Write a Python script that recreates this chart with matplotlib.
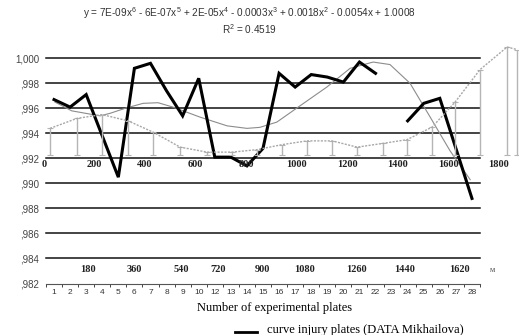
import numpy as np
import matplotlib.pyplot as plt

plt.rcParams['mathtext.fontset'] = 'custom'
plt.rcParams['mathtext.rm'] = 'Liberation Sans'
plt.rcParams['mathtext.it'] = 'Liberation Sans'

# plate numbers on the category axis (11 is not printed in the source)
plates = [str(i) for i in range(1, 11)] + [str(i) for i in range(12, 29)]

# injury curve (DATA Mikhailova), gap at plate 23
injury = [0.9967, 0.9961, 0.9971, 0.9938, 0.9905, 0.9992, 0.9996, 0.9974,
          0.9954, 0.9984, 0.9921, 0.9921, 0.9914, 0.9928, 0.9988, 0.9977,
          0.9987, 0.9985, 0.9981, 0.9997, 0.9988, np.nan, 0.9950, 0.9964,
          0.9968, 0.9928, 0.9888]

# 6th order trend line (category positions)
trend_pos = [1.06, 2.1, 3.86, 4.48, 5.42, 6.54, 7.47, 8.4, 10.08, 11.77, 13.0,
             13.8, 14.86, 16.3, 17.97, 19.42, 20.85, 21.9, 23.15, 24.4,
             25.64, 26.89]
trend_val = [0.9965, 0.9958, 0.9954, 0.9956, 0.9960, 0.9964, 0.99645, 0.9961,
             0.9953, 0.9946, 0.9944, 0.99448, 0.9949, 0.9962, 0.9977, 0.9992,
             0.9997, 0.9995, 0.9980, 0.9953, 0.9926, 0.9903]

# second (overlaid) curve in metres with error bars
dist_m = [24, 131, 230, 333, 432, 539, 646, 745, 844, 943, 1042, 1141, 1240,
          1343, 1438, 1537, 1628, 1727, 1834, 1873]
dist_val = [0.9944, 0.9952, 0.9955, 0.9950, 0.9941, 0.9929, 0.9925, 0.9925,
            0.9927, 0.9931, 0.9934, 0.9934, 0.9929, 0.9932, 0.9935, 0.9945,
            0.9965, 0.9991, 1.0009, 1.0007]
bar_bottom = 0.9923

top_labels = [0, 200, 400, 600, 800, 1000, 1200, 1400, 1600, 1800]
m_labels = ['180', '360', '540', '720', '900', '1080', '1260', '1440', '1620']
m_pos = [3.12, 5.98, 8.9, 11.2, 13.94, 16.56, 19.8, 22.84, 26.2]

W, H = 519, 335
fig = plt.figure(figsize=(W / 100, H / 100), dpi=100)

left, right = 46 / W, 480 / W
bottom, top = (H - 283.5) / H, (H - 58.3) / H
ax = fig.add_axes([left, bottom, right - left, top - bottom])
ax.set_xlim(0.5, 27.5)
ax.set_ylim(0.982, 1.000)

yt = np.arange(0.982, 1.0001, 0.002)
ax.set_yticks(yt)
ax.set_yticklabels(['1,000' if abs(v - 1) < 1e-9 else ',' + f'{v:.3f}'[2:] for v in yt],
                   fontsize=7, color='#444444', family='Liberation Sans')
ax.tick_params(axis='y', length=0, pad=5)
for v in yt[1:]:
    ax.axhline(v, color='#111111', lw=1.1, zorder=1, clip_on=False)

x = np.arange(1, len(plates) + 1)
ax.set_xticks(x)
ax.set_xticklabels(plates, fontsize=6, color='#333333', family='Liberation Sans')
ax.set_xticks(np.arange(0.5, 28, 1), minor=True)
ax.tick_params(axis='x', which='major', length=0, pad=4)
ax.tick_params(axis='x', which='minor', length=2.5, width=0.7, color='#444444')
for s in ['top', 'right', 'left']:
    ax.spines[s].set_visible(False)
ax.spines['bottom'].set_color('#555555')
ax.spines['bottom'].set_linewidth(0.8)
ax.spines['bottom'].set_linestyle((0, (2, 1)))
ax.patch.set_alpha(0)

ax.plot(trend_pos, trend_val, color='#8c8c8c', lw=0.8, zorder=3)
ax.plot(x, injury, color='black', lw=2.2, zorder=5, solid_joinstyle='miter')

for lab, p in zip(m_labels, m_pos):
    ax.text(p, 0.98308, lab, ha='center', va='center', fontsize=7.5,
            fontweight='bold', family='Liberation Serif', color='#222222')
ax.text(28.26, 0.98308, 'м', ha='center', va='center', fontsize=6,
        family='Liberation Serif', color='#555555', clip_on=False)

# overlaid distance axis
ax2 = fig.add_axes([left, bottom, 1 - left, top - bottom])
ax2.set_xlim(7.9, 1881.2)
ax2.set_ylim(0.982, 1.000)
ax2.axis('off')
lower = [v - bar_bottom for v in dist_val]
ax2.errorbar(dist_m, dist_val, yerr=[lower, [0] * len(dist_val)], fmt='none',
             ecolor='#b5b5b5', elinewidth=1.0, capsize=2, capthick=0.8,
             clip_on=False, zorder=2)
ax2.plot(dist_m, dist_val, color='#a8a8a8', lw=1.0, ls=(0, (1.5, 1)),
         clip_on=False, zorder=2)
for t in top_labels:
    ax2.text(t, 0.99155, str(t), ha='center', va='center', fontsize=7.5,
             fontweight='bold', family='Liberation Serif', color='#222222')

fig.text(249 / W, (H - 13.5) / H,
         r'y = 7E-09x$^{6}$ - 6E-07x$^{5}$ + 2E-05x$^{4}$ - 0.0003x$^{3}$ + 0.0018x$^{2}$ - 0.0054x + 1.0008',
         ha='center', va='center', fontsize=7.2, family='Liberation Sans', color='#333333')
fig.text(250 / W, (H - 29) / H, r'R$^{2}$ = 0.4519', ha='center', va='center',
         fontsize=7.2, family='Liberation Sans', color='#333333')

fig.text(275 / W, (H - 308) / H, 'Number of experimental plates', ha='center',
         va='center', fontsize=9, family='Liberation Serif')

fig.add_artist(plt.Line2D([235 / W, 257 / W], [(H - 332) / H] * 2, color='black', lw=2))
fig.text(267 / W, (H - 333) / H, 'curve injury plates (DATA Mikhailova)',
         ha='left', va='baseline', fontsize=9, family='Liberation Serif')

fig.savefig('out.png', dpi=100)
